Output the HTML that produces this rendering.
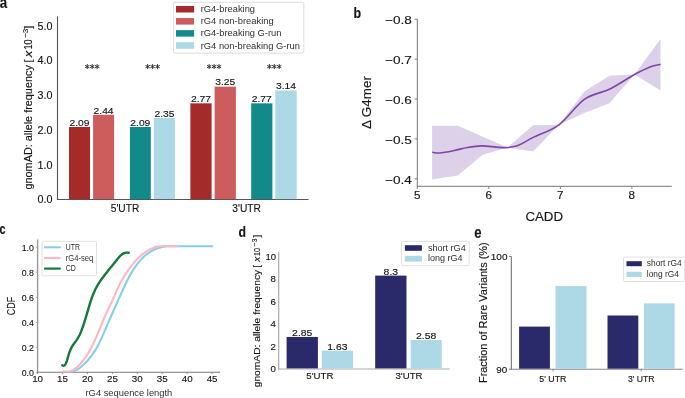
<!DOCTYPE html>
<html><head><meta charset="utf-8"><style>
html,body{margin:0;padding:0;background:#fff;width:685px;height:398px;overflow:hidden}
svg{display:block;font-family:"Liberation Sans", sans-serif;filter:blur(0.3px)}
text{stroke:#161616;stroke-width:0.14px}
</style></head><body>
<svg width="685" height="398" viewBox="0 0 685 398">
<rect x="0" y="0" width="685" height="398" fill="#ffffff"/>
<text x="-0.30" y="8.20" font-size="16" text-anchor="start" fill="#161616" font-weight="bold" textLength="7.40" lengthAdjust="spacingAndGlyphs">a</text>
<text x="353.60" y="17.60" font-size="15.5" text-anchor="start" fill="#161616" font-weight="bold" textLength="7.60" lengthAdjust="spacingAndGlyphs">b</text>
<text x="-0.50" y="234.30" font-size="15.5" text-anchor="start" fill="#161616" font-weight="bold" textLength="6.00" lengthAdjust="spacingAndGlyphs">c</text>
<text x="238.60" y="236.80" font-size="15" text-anchor="start" fill="#161616" font-weight="bold" textLength="7.50" lengthAdjust="spacingAndGlyphs">d</text>
<text x="474.20" y="238.10" font-size="16.5" text-anchor="start" fill="#161616" font-weight="bold" textLength="7.30" lengthAdjust="spacingAndGlyphs">e</text>
<line x1="57.50" y1="16.40" x2="57.50" y2="200.00" stroke="#555555" stroke-width="1.1"/>
<line x1="56.95" y1="199.50" x2="308.50" y2="199.50" stroke="#555555" stroke-width="1.0"/>
<text x="52.40" y="203.30" font-size="10.6" text-anchor="end" fill="#161616" font-weight="normal" textLength="15.00" lengthAdjust="spacingAndGlyphs">0.0</text>
<text x="52.40" y="168.55" font-size="10.6" text-anchor="end" fill="#161616" font-weight="normal" textLength="15.00" lengthAdjust="spacingAndGlyphs">1.0</text>
<text x="52.40" y="133.80" font-size="10.6" text-anchor="end" fill="#161616" font-weight="normal" textLength="15.00" lengthAdjust="spacingAndGlyphs">2.0</text>
<text x="52.40" y="99.05" font-size="10.6" text-anchor="end" fill="#161616" font-weight="normal" textLength="15.00" lengthAdjust="spacingAndGlyphs">3.0</text>
<text x="52.40" y="64.30" font-size="10.6" text-anchor="end" fill="#161616" font-weight="normal" textLength="15.00" lengthAdjust="spacingAndGlyphs">4.0</text>
<text x="52.40" y="29.55" font-size="10.6" text-anchor="end" fill="#161616" font-weight="normal" textLength="15.00" lengthAdjust="spacingAndGlyphs">5.0</text>
<g transform="translate(31.90,108.10) rotate(-90)" fill="#161616"><text x="-81.40" y="0.00" font-size="11.2" textLength="124.30" lengthAdjust="spacingAndGlyphs">gnomAD: allele frequency</text><text x="45.60" y="0.00" font-size="11.2">[</text><text x="50.90" y="0.00" font-size="11.2" textLength="6.50" lengthAdjust="spacingAndGlyphs" font-style="italic">x</text><text x="58.50" y="0.00" font-size="11.2" textLength="10.10" lengthAdjust="spacingAndGlyphs">10</text><text x="70.60" y="-3.60" font-size="8.0" textLength="8.70" lengthAdjust="spacingAndGlyphs">−3</text><text x="79.40" y="0.00" font-size="11.2">]</text></g>
<rect x="69.00" y="126.97" width="21.00" height="72.13" fill="#a52a2a"/>
<text x="79.50" y="125.77" font-size="9.0" text-anchor="middle" fill="#161616" font-weight="normal" textLength="20.00" lengthAdjust="spacingAndGlyphs">2.09</text>
<rect x="93.10" y="114.81" width="21.00" height="84.29" fill="#cd5c5c"/>
<text x="103.60" y="113.61" font-size="9.0" text-anchor="middle" fill="#161616" font-weight="normal" textLength="20.00" lengthAdjust="spacingAndGlyphs">2.44</text>
<rect x="129.90" y="126.97" width="20.90" height="72.13" fill="#128a8a"/>
<text x="140.35" y="125.77" font-size="9.0" text-anchor="middle" fill="#161616" font-weight="normal" textLength="20.00" lengthAdjust="spacingAndGlyphs">2.09</text>
<rect x="153.90" y="117.94" width="21.10" height="81.16" fill="#add8e6"/>
<text x="164.45" y="116.74" font-size="9.0" text-anchor="middle" fill="#161616" font-weight="normal" textLength="20.00" lengthAdjust="spacingAndGlyphs">2.35</text>
<rect x="190.40" y="103.34" width="21.20" height="95.76" fill="#a52a2a"/>
<text x="201.00" y="102.14" font-size="9.0" text-anchor="middle" fill="#161616" font-weight="normal" textLength="20.00" lengthAdjust="spacingAndGlyphs">2.77</text>
<rect x="214.60" y="86.66" width="21.30" height="112.44" fill="#cd5c5c"/>
<text x="225.25" y="85.46" font-size="9.0" text-anchor="middle" fill="#161616" font-weight="normal" textLength="20.00" lengthAdjust="spacingAndGlyphs">3.25</text>
<rect x="251.20" y="103.34" width="21.20" height="95.76" fill="#128a8a"/>
<text x="261.80" y="102.14" font-size="9.0" text-anchor="middle" fill="#161616" font-weight="normal" textLength="20.00" lengthAdjust="spacingAndGlyphs">2.77</text>
<rect x="275.30" y="90.48" width="21.40" height="108.62" fill="#add8e6"/>
<text x="286.00" y="89.28" font-size="9.0" text-anchor="middle" fill="#161616" font-weight="normal" textLength="20.00" lengthAdjust="spacingAndGlyphs">3.14</text>
<path d="M87.25,64.10L87.25,69.10M89.42,65.35L85.08,67.85M89.42,67.85L85.08,65.35" stroke="#333" stroke-width="1.0" fill="none"/>
<path d="M92.20,64.10L92.20,69.10M94.37,65.35L90.03,67.85M94.37,67.85L90.03,65.35" stroke="#333" stroke-width="1.0" fill="none"/>
<path d="M97.15,64.10L97.15,69.10M99.32,65.35L94.98,67.85M99.32,67.85L94.98,65.35" stroke="#333" stroke-width="1.0" fill="none"/>
<path d="M147.65,64.10L147.65,69.10M149.82,65.35L145.48,67.85M149.82,67.85L145.48,65.35" stroke="#333" stroke-width="1.0" fill="none"/>
<path d="M152.60,64.10L152.60,69.10M154.77,65.35L150.43,67.85M154.77,67.85L150.43,65.35" stroke="#333" stroke-width="1.0" fill="none"/>
<path d="M157.55,64.10L157.55,69.10M159.72,65.35L155.38,67.85M159.72,67.85L155.38,65.35" stroke="#333" stroke-width="1.0" fill="none"/>
<path d="M209.15,64.10L209.15,69.10M211.32,65.35L206.98,67.85M211.32,67.85L206.98,65.35" stroke="#333" stroke-width="1.0" fill="none"/>
<path d="M214.10,64.10L214.10,69.10M216.27,65.35L211.93,67.85M216.27,67.85L211.93,65.35" stroke="#333" stroke-width="1.0" fill="none"/>
<path d="M219.05,64.10L219.05,69.10M221.22,65.35L216.88,67.85M221.22,67.85L216.88,65.35" stroke="#333" stroke-width="1.0" fill="none"/>
<path d="M269.35,64.10L269.35,69.10M271.52,65.35L267.18,67.85M271.52,67.85L267.18,65.35" stroke="#333" stroke-width="1.0" fill="none"/>
<path d="M274.30,64.10L274.30,69.10M276.47,65.35L272.13,67.85M276.47,67.85L272.13,65.35" stroke="#333" stroke-width="1.0" fill="none"/>
<path d="M279.25,64.10L279.25,69.10M281.42,65.35L277.08,67.85M281.42,67.85L277.08,65.35" stroke="#333" stroke-width="1.0" fill="none"/>
<text x="125.00" y="212.20" font-size="10.6" text-anchor="middle" fill="#161616" font-weight="normal" textLength="28.50" lengthAdjust="spacingAndGlyphs">5'UTR</text>
<text x="246.60" y="212.20" font-size="10.6" text-anchor="middle" fill="#161616" font-weight="normal" textLength="28.60" lengthAdjust="spacingAndGlyphs">3'UTR</text>
<rect x="173.6" y="2.3" width="130.2" height="50.8" rx="1.5" fill="#fff" stroke="#d9d9d9" stroke-width="0.9"/>
<rect x="176.00" y="6.00" width="18.10" height="6.50" fill="#a52a2a"/>
<text x="200.70" y="12.30" font-size="8.6" text-anchor="start" fill="#161616" font-weight="normal" textLength="54.30" lengthAdjust="spacingAndGlyphs" style="stroke:none" fill-opacity="0.92">rG4-breaking</text>
<rect x="176.00" y="18.07" width="18.10" height="6.50" fill="#cd5c5c"/>
<text x="200.70" y="24.37" font-size="8.6" text-anchor="start" fill="#161616" font-weight="normal" textLength="73.00" lengthAdjust="spacingAndGlyphs" style="stroke:none" fill-opacity="0.92">rG4 non-breaking</text>
<rect x="176.00" y="30.14" width="18.10" height="6.50" fill="#128a8a"/>
<text x="200.70" y="36.44" font-size="8.6" text-anchor="start" fill="#161616" font-weight="normal" textLength="80.70" lengthAdjust="spacingAndGlyphs" style="stroke:none" fill-opacity="0.92">rG4-breaking G-run</text>
<rect x="176.00" y="42.21" width="18.10" height="6.50" fill="#add8e6"/>
<text x="200.70" y="48.51" font-size="8.6" text-anchor="start" fill="#161616" font-weight="normal" textLength="99.30" lengthAdjust="spacingAndGlyphs" style="stroke:none" fill-opacity="0.92">rG4 non-breaking G-run</text>
<line x1="417.30" y1="19.30" x2="417.30" y2="186.80" stroke="#777777" stroke-width="1.0"/>
<line x1="416.80" y1="186.30" x2="671.80" y2="186.30" stroke="#777777" stroke-width="1.0"/>
<line x1="414.60" y1="19.30" x2="417.30" y2="19.30" stroke="#777777" stroke-width="0.9"/>
<text x="411.80" y="24.10" font-size="11.4" text-anchor="end" fill="#161616" font-weight="normal" textLength="26.80" lengthAdjust="spacingAndGlyphs">−0.8</text>
<line x1="414.60" y1="59.18" x2="417.30" y2="59.18" stroke="#777777" stroke-width="0.9"/>
<text x="411.80" y="63.98" font-size="11.4" text-anchor="end" fill="#161616" font-weight="normal" textLength="26.80" lengthAdjust="spacingAndGlyphs">−0.7</text>
<line x1="414.60" y1="99.05" x2="417.30" y2="99.05" stroke="#777777" stroke-width="0.9"/>
<text x="411.80" y="103.85" font-size="11.4" text-anchor="end" fill="#161616" font-weight="normal" textLength="26.80" lengthAdjust="spacingAndGlyphs">−0.6</text>
<line x1="414.60" y1="138.93" x2="417.30" y2="138.93" stroke="#777777" stroke-width="0.9"/>
<text x="411.80" y="143.73" font-size="11.4" text-anchor="end" fill="#161616" font-weight="normal" textLength="26.80" lengthAdjust="spacingAndGlyphs">−0.5</text>
<line x1="414.60" y1="178.80" x2="417.30" y2="178.80" stroke="#777777" stroke-width="0.9"/>
<text x="411.80" y="183.60" font-size="11.4" text-anchor="end" fill="#161616" font-weight="normal" textLength="26.80" lengthAdjust="spacingAndGlyphs">−0.4</text>
<line x1="417.30" y1="186.30" x2="417.30" y2="189.00" stroke="#777777" stroke-width="0.9"/>
<text x="417.30" y="198.60" font-size="10.6" text-anchor="middle" fill="#161616" font-weight="normal" textLength="6.50" lengthAdjust="spacingAndGlyphs">5</text>
<line x1="488.83" y1="186.30" x2="488.83" y2="189.00" stroke="#777777" stroke-width="0.9"/>
<text x="488.83" y="198.60" font-size="10.6" text-anchor="middle" fill="#161616" font-weight="normal" textLength="6.50" lengthAdjust="spacingAndGlyphs">6</text>
<line x1="560.36" y1="186.30" x2="560.36" y2="189.00" stroke="#777777" stroke-width="0.9"/>
<text x="560.36" y="198.60" font-size="10.6" text-anchor="middle" fill="#161616" font-weight="normal" textLength="6.50" lengthAdjust="spacingAndGlyphs">7</text>
<line x1="631.89" y1="186.30" x2="631.89" y2="189.00" stroke="#777777" stroke-width="0.9"/>
<text x="631.89" y="198.60" font-size="10.6" text-anchor="middle" fill="#161616" font-weight="normal" textLength="6.50" lengthAdjust="spacingAndGlyphs">8</text>
<text x="544.20" y="220.60" font-size="12.8" text-anchor="middle" fill="#161616" font-weight="normal" textLength="37.60" lengthAdjust="spacingAndGlyphs">CADD</text>
<text transform="translate(370.70,102.60) rotate(-90)" x="0" y="0" font-size="13.2" text-anchor="middle" fill="#161616" font-weight="normal" textLength="53.00" lengthAdjust="spacingAndGlyphs">Δ G4mer</text>
<polygon points="432.1,125.7 457.8,125.7 507.5,147.6 533.2,125.2 559.0,124.8 584.6,91.2 609.4,75.7 634.5,74.5 660.5,39.1 660.5,90.4 634.5,74.5 609.4,103.3 584.6,112.7 559.0,124.8 533.2,151.4 507.5,147.6 482.7,154.7 457.8,175.4 432.1,179.4" fill="#dcd1e9"/>
<path d="M432.20,152.30 C433.47,152.42 436.12,153.30 439.80,153.00 C443.48,152.70 449.70,151.42 454.30,150.50 C458.90,149.58 462.80,148.27 467.40,147.50 C472.00,146.73 477.08,145.97 481.90,145.90 C486.72,145.83 492.12,146.82 496.30,147.10 C500.48,147.38 503.38,147.87 507.00,147.60 C510.62,147.33 513.63,147.20 518.00,145.50 C522.37,143.80 526.37,140.85 533.20,137.40 C540.03,133.95 550.43,131.17 559.00,124.80 C567.57,118.43 576.20,105.13 584.60,99.20 C593.00,93.27 601.08,93.32 609.40,89.20 C617.72,85.08 627.73,78.20 634.50,74.50 C641.27,70.80 645.67,68.70 650.00,67.00 C654.33,65.30 658.75,64.75 660.50,64.30" fill="none" stroke="#7f45a5" stroke-width="1.6"/>
<line x1="37.60" y1="239.40" x2="37.60" y2="372.80" stroke="#999999" stroke-width="1.4"/>
<line x1="37.00" y1="372.30" x2="220.00" y2="372.30" stroke="#777777" stroke-width="1.1"/>
<line x1="35.80" y1="372.30" x2="37.60" y2="372.30" stroke="#999999" stroke-width="0.8"/>
<text x="33.90" y="375.70" font-size="9.6" text-anchor="end" fill="#161616" font-weight="normal" textLength="12.20" lengthAdjust="spacingAndGlyphs">0.0</text>
<line x1="35.80" y1="347.30" x2="37.60" y2="347.30" stroke="#999999" stroke-width="0.8"/>
<text x="33.90" y="350.70" font-size="9.6" text-anchor="end" fill="#161616" font-weight="normal" textLength="12.20" lengthAdjust="spacingAndGlyphs">0.2</text>
<line x1="35.80" y1="322.30" x2="37.60" y2="322.30" stroke="#999999" stroke-width="0.8"/>
<text x="33.90" y="325.70" font-size="9.6" text-anchor="end" fill="#161616" font-weight="normal" textLength="12.20" lengthAdjust="spacingAndGlyphs">0.4</text>
<line x1="35.80" y1="297.30" x2="37.60" y2="297.30" stroke="#999999" stroke-width="0.8"/>
<text x="33.90" y="300.70" font-size="9.6" text-anchor="end" fill="#161616" font-weight="normal" textLength="12.20" lengthAdjust="spacingAndGlyphs">0.6</text>
<line x1="35.80" y1="272.30" x2="37.60" y2="272.30" stroke="#999999" stroke-width="0.8"/>
<text x="33.90" y="275.70" font-size="9.6" text-anchor="end" fill="#161616" font-weight="normal" textLength="12.20" lengthAdjust="spacingAndGlyphs">0.8</text>
<line x1="35.80" y1="247.30" x2="37.60" y2="247.30" stroke="#999999" stroke-width="0.8"/>
<text x="33.90" y="250.70" font-size="9.6" text-anchor="end" fill="#161616" font-weight="normal" textLength="12.20" lengthAdjust="spacingAndGlyphs">1.0</text>
<line x1="37.60" y1="372.30" x2="37.60" y2="374.00" stroke="#777777" stroke-width="0.8"/>
<text x="37.60" y="382.30" font-size="9.6" text-anchor="middle" fill="#161616" font-weight="normal" textLength="10.90" lengthAdjust="spacingAndGlyphs">10</text>
<line x1="62.53" y1="372.30" x2="62.53" y2="374.00" stroke="#777777" stroke-width="0.8"/>
<text x="62.53" y="382.30" font-size="9.6" text-anchor="middle" fill="#161616" font-weight="normal" textLength="10.90" lengthAdjust="spacingAndGlyphs">15</text>
<line x1="87.46" y1="372.30" x2="87.46" y2="374.00" stroke="#777777" stroke-width="0.8"/>
<text x="87.46" y="382.30" font-size="9.6" text-anchor="middle" fill="#161616" font-weight="normal" textLength="10.90" lengthAdjust="spacingAndGlyphs">20</text>
<line x1="112.39" y1="372.30" x2="112.39" y2="374.00" stroke="#777777" stroke-width="0.8"/>
<text x="112.39" y="382.30" font-size="9.6" text-anchor="middle" fill="#161616" font-weight="normal" textLength="10.90" lengthAdjust="spacingAndGlyphs">25</text>
<line x1="137.32" y1="372.30" x2="137.32" y2="374.00" stroke="#777777" stroke-width="0.8"/>
<text x="137.32" y="382.30" font-size="9.6" text-anchor="middle" fill="#161616" font-weight="normal" textLength="10.90" lengthAdjust="spacingAndGlyphs">30</text>
<line x1="162.25" y1="372.30" x2="162.25" y2="374.00" stroke="#777777" stroke-width="0.8"/>
<text x="162.25" y="382.30" font-size="9.6" text-anchor="middle" fill="#161616" font-weight="normal" textLength="10.90" lengthAdjust="spacingAndGlyphs">35</text>
<line x1="187.18" y1="372.30" x2="187.18" y2="374.00" stroke="#777777" stroke-width="0.8"/>
<text x="187.18" y="382.30" font-size="9.6" text-anchor="middle" fill="#161616" font-weight="normal" textLength="10.90" lengthAdjust="spacingAndGlyphs">40</text>
<line x1="212.11" y1="372.30" x2="212.11" y2="374.00" stroke="#777777" stroke-width="0.8"/>
<text x="212.11" y="382.30" font-size="9.6" text-anchor="middle" fill="#161616" font-weight="normal" textLength="10.90" lengthAdjust="spacingAndGlyphs">45</text>
<text x="128.90" y="396.40" font-size="8.6" text-anchor="middle" fill="#161616" font-weight="normal" textLength="86.80" lengthAdjust="spacingAndGlyphs" style="stroke:none" fill-opacity="0.92">rG4 sequence length</text>
<text transform="translate(15.10,306.00) rotate(-90)" x="0" y="0" font-size="10.2" text-anchor="middle" fill="#161616" font-weight="normal" textLength="18.30" lengthAdjust="spacingAndGlyphs">CDF</text>
<path d="M71.10,372.05 L71.99,371.81 L72.89,371.52 L73.78,371.19 L74.67,370.81 L75.57,370.39 L76.46,369.93 L77.35,369.42 L78.24,368.87 L79.14,368.28 L80.03,367.64 L80.92,366.96 L81.82,366.24 L82.71,365.48 L83.60,364.67 L84.50,363.82 L85.39,362.93 L86.28,362.00 L87.18,361.03 L88.07,360.01 L88.96,358.95 L89.85,357.85 L90.75,356.71 L91.64,355.52 L92.53,354.28 L93.43,352.98 L94.32,351.63 L95.21,350.22 L96.11,348.74 L97.00,347.20 L97.89,345.58 L98.79,343.89 L99.68,342.12 L100.57,340.27 L101.46,338.34 L102.36,336.33 L103.25,334.27 L104.14,332.18 L105.04,330.09 L105.93,328.02 L106.82,325.95 L107.72,323.89 L108.61,321.85 L109.50,319.81 L110.40,317.78 L111.29,315.75 L112.18,313.73 L113.07,311.72 L113.97,309.71 L114.86,307.70 L115.75,305.70 L116.65,303.69 L117.54,301.69 L118.43,299.68 L119.33,297.68 L120.22,295.67 L121.11,293.67 L122.01,291.69 L122.90,289.72 L123.79,287.77 L124.68,285.85 L125.58,283.97 L126.47,282.12 L127.36,280.31 L128.26,278.56 L129.15,276.85 L130.04,275.21 L130.94,273.62 L131.83,272.10 L132.72,270.63 L133.62,269.22 L134.51,267.87 L135.40,266.57 L136.29,265.32 L137.19,264.13 L138.08,262.98 L138.97,261.89 L139.87,260.84 L140.76,259.85 L141.65,258.89 L142.55,257.99 L143.44,257.12 L144.33,256.30 L145.23,255.52 L146.12,254.78 L147.01,254.08 L147.91,253.42 L148.80,252.79 L149.69,252.20 L150.58,251.64 L151.48,251.12 L152.37,250.63 L153.26,250.16 L154.16,249.73 L155.05,249.32 L155.94,248.94 L156.84,248.59 L157.73,248.26 L158.62,247.96 L159.52,247.68 L160.41,247.42 L161.30,247.19 L162.19,246.98 L163.09,246.79 L163.98,246.61 L164.87,246.46 L165.77,246.33 L166.66,246.30 L167.55,246.30 L168.45,246.30 L169.34,246.30 L170.23,246.30 L171.13,246.30 L172.02,246.30 L172.91,246.30 L173.80,246.30 L174.70,246.30 L175.59,246.30 L176.48,246.30 L177.38,246.30 L178.27,246.30 L179.16,246.30 L180.06,246.30 L180.95,246.30 L181.84,246.30 L182.74,246.30 L183.63,246.30 L184.52,246.30 L185.41,246.30 L186.31,246.30 L187.20,246.30 L188.09,246.30 L188.99,246.30 L189.88,246.30 L190.77,246.30 L191.67,246.30 L192.56,246.30 L193.45,246.30 L194.35,246.30 L195.24,246.30 L196.13,246.30 L197.02,246.30 L197.92,246.30 L198.81,246.30 L199.70,246.30 L200.60,246.30 L201.49,246.30 L202.38,246.30 L203.28,246.30 L204.17,246.30 L205.06,246.30 L205.96,246.30 L206.85,246.30 L207.74,246.30 L208.63,246.30 L209.53,246.30 L210.42,246.30 L211.31,246.30 L212.21,246.30 L213.10,246.30" fill="none" stroke="#87ceeb" stroke-width="2.1" stroke-linejoin="round"/>
<path d="M62.00,371.55 L62.73,371.55 L63.46,371.55 L64.19,371.55 L64.92,371.55 L65.65,371.55 L66.38,371.55 L67.11,371.55 L67.84,371.55 L68.57,371.55 L69.30,371.52 L70.03,371.30 L70.75,371.04 L71.48,370.75 L72.21,370.41 L72.94,370.03 L73.67,369.61 L74.40,369.16 L75.13,368.66 L75.86,368.12 L76.59,367.55 L77.32,366.93 L78.05,366.28 L78.78,365.58 L79.51,364.85 L80.24,364.08 L80.97,363.26 L81.70,362.41 L82.43,361.52 L83.16,360.58 L83.89,359.61 L84.62,358.60 L85.35,357.55 L86.08,356.46 L86.81,355.33 L87.53,354.16 L88.26,352.95 L88.99,351.70 L89.72,350.41 L90.45,349.08 L91.18,347.72 L91.91,346.31 L92.64,344.86 L93.37,343.37 L94.10,341.85 L94.83,340.28 L95.56,338.67 L96.29,337.03 L97.02,335.36 L97.75,333.65 L98.48,331.93 L99.21,330.19 L99.94,328.44 L100.67,326.68 L101.40,324.92 L102.13,323.17 L102.86,321.42 L103.58,319.68 L104.31,317.96 L105.04,316.27 L105.77,314.60 L106.50,312.97 L107.23,311.37 L107.96,309.82 L108.69,308.31 L109.42,306.83 L110.15,305.36 L110.88,303.89 L111.61,302.38 L112.34,300.82 L113.07,299.18 L113.80,297.47 L114.53,295.69 L115.26,293.91 L115.99,292.15 L116.72,290.47 L117.45,288.87 L118.18,287.35 L118.91,285.89 L119.64,284.48 L120.36,283.11 L121.09,281.77 L121.82,280.46 L122.55,279.18 L123.28,277.92 L124.01,276.70 L124.74,275.50 L125.47,274.33 L126.20,273.18 L126.93,272.07 L127.66,270.98 L128.39,269.91 L129.12,268.88 L129.85,267.87 L130.58,266.88 L131.31,265.93 L132.04,264.99 L132.77,264.08 L133.50,263.20 L134.23,262.34 L134.96,261.51 L135.69,260.70 L136.42,259.91 L137.14,259.15 L137.87,258.41 L138.60,257.70 L139.33,257.01 L140.06,256.34 L140.79,255.69 L141.52,255.06 L142.25,254.46 L142.98,253.88 L143.71,253.32 L144.44,252.78 L145.17,252.26 L145.90,251.77 L146.63,251.29 L147.36,250.83 L148.09,250.40 L148.82,249.98 L149.55,249.58 L150.28,249.20 L151.01,248.84 L151.74,248.50 L152.47,248.18 L153.19,247.88 L153.92,247.59 L154.65,247.32 L155.38,247.07 L156.11,246.84 L156.84,246.62 L157.57,246.42 L158.30,246.30 L159.03,246.30 L159.76,246.30 L160.49,246.30 L161.22,246.30 L161.95,246.30 L162.68,246.30 L163.41,246.30 L164.14,246.30 L164.87,246.30 L165.60,246.30 L166.33,246.30 L167.06,246.30 L167.79,246.30 L168.52,246.30 L169.25,246.30 L169.97,246.30 L170.70,246.30 L171.43,246.30 L172.16,246.30 L172.89,246.30 L173.62,246.30 L174.35,246.30 L175.08,246.30 L175.81,246.30 L176.54,246.30 L177.27,246.30 L178.00,246.30" fill="none" stroke="#ffb6c1" stroke-width="2.1" stroke-linejoin="round"/>
<path d="M62.28,365.34 L63.30,365.75 L64.17,365.57 L64.91,364.96 L65.53,364.11 L66.06,363.13 L66.50,362.06 L66.89,360.93 L67.24,359.76 L67.57,358.58 L67.89,357.40 L68.21,356.25 L68.55,355.11 L68.90,353.99 L69.26,352.90 L69.64,351.82 L70.05,350.75 L70.48,349.71 L70.95,348.69 L71.44,347.68 L71.98,346.70 L72.56,345.73 L73.18,344.79 L73.84,343.85 L74.53,342.93 L75.23,342.01 L75.91,341.09 L76.57,340.15 L77.20,339.20 L77.80,338.23 L78.36,337.25 L78.90,336.26 L79.42,335.26 L79.91,334.24 L80.37,333.21 L80.82,332.18 L81.25,331.13 L81.67,330.07 L82.07,329.01 L82.46,327.93 L82.83,326.85 L83.21,325.76 L83.57,324.67 L83.93,323.57 L84.29,322.47 L84.64,321.36 L84.98,320.25 L85.33,319.14 L85.66,318.02 L86.00,316.91 L86.33,315.79 L86.66,314.67 L86.99,313.55 L87.31,312.44 L87.64,311.32 L87.96,310.21 L88.28,309.10 L88.61,308.00 L88.93,306.90 L89.26,305.80 L89.59,304.70 L89.92,303.61 L90.26,302.53 L90.61,301.45 L90.96,300.37 L91.32,299.29 L91.69,298.23 L92.07,297.16 L92.46,296.10 L92.87,295.05 L93.29,294.00 L93.72,292.96 L94.17,291.92 L94.64,290.89 L95.12,289.86 L95.62,288.84 L96.15,287.82 L96.69,286.82 L97.25,285.81 L97.84,284.82 L98.45,283.83 L99.07,282.84 L99.71,281.87 L100.37,280.90 L101.04,279.94 L101.72,278.98 L102.41,278.04 L103.11,277.10 L103.82,276.16 L104.52,275.24 L105.24,274.32 L105.95,273.42 L106.66,272.52 L107.37,271.63 L108.07,270.74 L108.77,269.86 L109.47,268.99 L110.17,268.12 L110.87,267.25 L111.57,266.39 L112.27,265.52 L112.97,264.65 L113.68,263.77 L114.39,262.89 L115.11,262.00 L115.83,261.10 L116.57,260.19 L117.31,259.27 L118.06,258.34 L118.83,257.42 L119.62,256.53 L120.43,255.68 L121.29,254.90 L122.18,254.21 L123.13,253.63 L124.12,253.16 L125.17,252.83 L126.29,252.64 L127.47,252.63 L128.72,252.79" fill="none" stroke="#137a3c" stroke-width="2.4" stroke-linecap="round" stroke-linejoin="round"/>
<rect x="42.1" y="241.3" width="54.4" height="34.5" rx="1.5" fill="#fff" fill-opacity="0.85" stroke="#d9d9d9" stroke-width="0.8"/>
<line x1="44.10" y1="247.30" x2="60.70" y2="247.30" stroke="#87ceeb" stroke-width="2"/>
<text x="65.70" y="250.10" font-size="8.2" text-anchor="start" fill="#161616" font-weight="normal" textLength="14.20" lengthAdjust="spacingAndGlyphs" style="stroke:none" fill-opacity="0.92">UTR</text>
<line x1="44.10" y1="258.00" x2="60.70" y2="258.00" stroke="#ffb6c1" stroke-width="2"/>
<text x="65.70" y="260.80" font-size="8.2" text-anchor="start" fill="#161616" font-weight="normal" textLength="27.60" lengthAdjust="spacingAndGlyphs" style="stroke:none" fill-opacity="0.92">rG4-seq</text>
<line x1="44.10" y1="268.60" x2="60.70" y2="268.60" stroke="#137a3c" stroke-width="2.2"/>
<text x="65.70" y="271.40" font-size="8.2" text-anchor="start" fill="#161616" font-weight="normal" textLength="10.10" lengthAdjust="spacingAndGlyphs" style="stroke:none" fill-opacity="0.92">CD</text>
<line x1="278.70" y1="252.00" x2="278.70" y2="369.50" stroke="#aaaaaa" stroke-width="1.2"/>
<line x1="278.10" y1="369.00" x2="449.60" y2="369.00" stroke="#aaaaaa" stroke-width="1.2"/>
<text x="276.00" y="372.10" font-size="9.2" text-anchor="end" fill="#161616" font-weight="normal" textLength="5.40" lengthAdjust="spacingAndGlyphs">0</text>
<text x="276.00" y="349.60" font-size="9.2" text-anchor="end" fill="#161616" font-weight="normal" textLength="5.40" lengthAdjust="spacingAndGlyphs">2</text>
<text x="276.00" y="327.10" font-size="9.2" text-anchor="end" fill="#161616" font-weight="normal" textLength="5.40" lengthAdjust="spacingAndGlyphs">4</text>
<text x="276.00" y="304.60" font-size="9.2" text-anchor="end" fill="#161616" font-weight="normal" textLength="5.40" lengthAdjust="spacingAndGlyphs">6</text>
<text x="276.00" y="282.10" font-size="9.2" text-anchor="end" fill="#161616" font-weight="normal" textLength="5.40" lengthAdjust="spacingAndGlyphs">8</text>
<text x="276.00" y="259.60" font-size="9.2" text-anchor="end" fill="#161616" font-weight="normal" textLength="10.60" lengthAdjust="spacingAndGlyphs">10</text>
<g transform="translate(259.90,311.00) rotate(-90)" fill="#161616"><text x="-76.30" y="0.00" font-size="9.4" textLength="117.50" lengthAdjust="spacingAndGlyphs">gnomAD: allele frequency</text><text x="43.60" y="0.00" font-size="9.4">[</text><text x="49.20" y="0.00" font-size="9.4" textLength="5.00" lengthAdjust="spacingAndGlyphs" font-style="italic">x</text><text x="55.00" y="0.00" font-size="9.4" textLength="8.20" lengthAdjust="spacingAndGlyphs">10</text><text x="64.80" y="-3.40" font-size="6.8" textLength="7.60" lengthAdjust="spacingAndGlyphs">−3</text><text x="73.40" y="0.00" font-size="9.4">]</text></g>
<rect x="286.60" y="336.94" width="31.30" height="31.46" fill="#2a296a"/>
<text x="302.25" y="335.84" font-size="9.2" text-anchor="middle" fill="#161616" font-weight="normal" textLength="20.30" lengthAdjust="spacingAndGlyphs">2.85</text>
<rect x="321.80" y="350.66" width="31.20" height="17.74" fill="#add8e6"/>
<text x="337.40" y="349.56" font-size="9.2" text-anchor="middle" fill="#161616" font-weight="normal" textLength="20.30" lengthAdjust="spacingAndGlyphs">1.63</text>
<rect x="375.20" y="275.62" width="31.30" height="92.77" fill="#2a296a"/>
<text x="390.85" y="274.52" font-size="9.2" text-anchor="middle" fill="#161616" font-weight="normal" textLength="14.50" lengthAdjust="spacingAndGlyphs">8.3</text>
<rect x="410.70" y="339.98" width="31.00" height="28.42" fill="#add8e6"/>
<text x="426.20" y="338.88" font-size="9.2" text-anchor="middle" fill="#161616" font-weight="normal" textLength="20.30" lengthAdjust="spacingAndGlyphs">2.58</text>
<text x="319.90" y="378.50" font-size="9.0" text-anchor="middle" fill="#161616" font-weight="normal" textLength="27.10" lengthAdjust="spacingAndGlyphs">5'UTR</text>
<text x="409.00" y="378.50" font-size="9.0" text-anchor="middle" fill="#161616" font-weight="normal" textLength="27.10" lengthAdjust="spacingAndGlyphs">3'UTR</text>
<rect x="401.4" y="241.4" width="67.8" height="24.2" rx="1.5" fill="#fff" stroke="#d9d9d9" stroke-width="0.8"/>
<rect x="404.90" y="245.20" width="17.00" height="5.60" fill="#2a296a"/>
<rect x="404.90" y="255.80" width="17.00" height="5.80" fill="#add8e6"/>
<text x="427.90" y="250.80" font-size="8.2" text-anchor="start" fill="#161616" font-weight="normal" textLength="37.80" lengthAdjust="spacingAndGlyphs" style="stroke:none" fill-opacity="0.92">short rG4</text>
<text x="427.90" y="261.20" font-size="8.2" text-anchor="start" fill="#161616" font-weight="normal" textLength="34.60" lengthAdjust="spacingAndGlyphs" style="stroke:none" fill-opacity="0.92">long rG4</text>
<line x1="511.30" y1="256.40" x2="511.30" y2="369.70" stroke="#666666" stroke-width="1.0"/>
<line x1="510.80" y1="369.20" x2="682.80" y2="369.20" stroke="#888888" stroke-width="1.1"/>
<line x1="509.00" y1="256.40" x2="511.30" y2="256.40" stroke="#666666" stroke-width="0.9"/>
<line x1="509.00" y1="369.20" x2="511.30" y2="369.20" stroke="#666666" stroke-width="0.9"/>
<text x="507.50" y="260.20" font-size="9.7" text-anchor="end" fill="#161616" font-weight="normal" textLength="16.70" lengthAdjust="spacingAndGlyphs">100</text>
<text x="507.30" y="373.00" font-size="9.7" text-anchor="end" fill="#161616" font-weight="normal" textLength="11.00" lengthAdjust="spacingAndGlyphs">90</text>
<line x1="553.10" y1="369.20" x2="553.10" y2="371.30" stroke="#666666" stroke-width="0.8"/>
<line x1="641.20" y1="369.20" x2="641.20" y2="371.30" stroke="#666666" stroke-width="0.8"/>
<rect x="519.10" y="326.60" width="30.80" height="42.10" fill="#2a296a"/>
<rect x="555.50" y="286.10" width="31.00" height="82.60" fill="#add8e6"/>
<rect x="607.50" y="315.50" width="30.80" height="53.20" fill="#2a296a"/>
<rect x="643.90" y="303.40" width="30.70" height="65.30" fill="#add8e6"/>
<text x="552.90" y="382.00" font-size="9.2" text-anchor="middle" fill="#161616" font-weight="normal" textLength="27.20" lengthAdjust="spacingAndGlyphs">5' UTR</text>
<text x="641.30" y="381.90" font-size="9.2" text-anchor="middle" fill="#161616" font-weight="normal" textLength="26.70" lengthAdjust="spacingAndGlyphs">3' UTR</text>
<text transform="translate(486.50,312.70) rotate(-90)" x="0" y="0" font-size="10.2" text-anchor="middle" fill="#161616" font-weight="normal" textLength="140.70" lengthAdjust="spacingAndGlyphs">Fraction of Rare Variants (%)</text>
<rect x="623.5" y="257.1" width="61.3" height="24.4" rx="1.5" fill="#fff" stroke="#d9d9d9" stroke-width="0.8"/>
<rect x="626.50" y="261.20" width="15.30" height="5.00" fill="#2a296a"/>
<rect x="626.50" y="271.80" width="15.30" height="5.20" fill="#add8e6"/>
<text x="646.80" y="266.20" font-size="8.2" text-anchor="start" fill="#161616" font-weight="normal" textLength="35.00" lengthAdjust="spacingAndGlyphs" style="stroke:none" fill-opacity="0.92">short rG4</text>
<text x="646.80" y="276.80" font-size="8.2" text-anchor="start" fill="#161616" font-weight="normal" textLength="32.10" lengthAdjust="spacingAndGlyphs" style="stroke:none" fill-opacity="0.92">long rG4</text>
</svg>
</body></html>
